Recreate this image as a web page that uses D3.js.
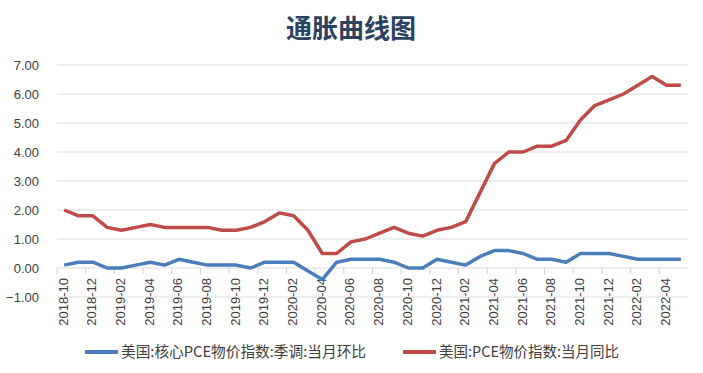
<!DOCTYPE html>
<html>
<head>
<meta charset="utf-8">
<script src="https://cdn.jsdelivr.net/npm/d3@7"></script>
<style>
  body { margin: 0; background: #fff; }
  text { font-family: "Liberation Sans", "Noto Sans CJK SC", sans-serif; }
</style>
</head>
<body>
<script>
// 月份
var months = [];
for (var y = 2018, m = 10; y * 12 + m <= 2022 * 12 + 5; m++) {
    if (m > 12) { m = 1; y++; }
    months.push(y + "-" + (m < 10 ? "0" + m : m));
}
// 美国:核心PCE物价指数:季调:当月环比
var core_mom = [0.1,0.2,0.2,0.0,0.0,0.1,0.2,0.1,0.3,0.2,0.1,0.1,0.1,0.0,0.2,0.2,0.2,-0.1,-0.4,0.2,
    0.3,0.3,0.3,0.2,0.0,0.0,0.3,0.2,0.1,0.4,0.6,0.6,0.5,0.3,0.3,0.2,0.5,0.5,0.5,0.4,0.3,0.3,0.3,0.3];
// 美国:PCE物价指数:当月同比
var pce_yoy = [2.0,1.8,1.8,1.4,1.3,1.4,1.5,1.4,1.4,1.4,1.4,1.3,1.3,1.4,1.6,1.9,1.8,1.3,0.5,0.5,
    0.9,1.0,1.2,1.4,1.2,1.1,1.3,1.4,1.6,2.6,3.6,4.0,4.0,4.2,4.2,4.4,5.1,5.6,5.8,6.0,6.3,6.6,6.3,6.3];
var yTicks = [-1,0,1,2,3,4,5,6,7];
var seriesNames = ["美国:核心PCE物价指数:季调:当月环比", "美国:PCE物价指数:当月同比"];
var colors = ["#4a7ebb", "#be4b48"];

const W = 703, H = 373;
const svg = d3.select("body").append("svg").attr("width", W).attr("height", H);

// 标题
svg.append("text").attr("x", 351).attr("y", 38).attr("text-anchor", "middle")
    .style("font-family", "'Noto Sans CJK SC'").style("font-size", "26px").style("font-weight", "bold")
    .style("fill", "#2b4260").text("通胀曲线图");

const xScale = d3.scaleBand().domain(months).range([57, 688]);
const yScale = d3.scaleLinear().domain([-1, 7]).range([297, 65]);

// 网格线
svg.append("g").selectAll("line").data(yTicks).enter().append("line")
    .attr("x1", 57).attr("x2", 688)
    .attr("y1", d => yScale(d)).attr("y2", d => yScale(d))
    .style("stroke", "#dcdcdc").style("stroke-width", 1);

// y轴
const yAxis = d3.axisLeft(yScale).tickValues(yTicks).tickFormat(d3.format(".2f")).tickSize(0).tickPadding(0);
const gy = svg.append("g").attr("transform", "translate(39,0)").call(yAxis);
gy.select(".domain").remove();
gy.selectAll("text").style("font-size", "13px").style("fill", "#404040");

// x轴刻度 (在0线)
const tickMonths = months.filter((d, i) => i % 2 == 0);
svg.append("g").selectAll("line").data(tickMonths).enter().append("line")
    .attr("x1", d => xScale(d)).attr("x2", d => xScale(d))
    .attr("y1", yScale(0)).attr("y2", yScale(0) + 6)
    .style("stroke", "#d0d0d0");

// x轴标签
const labelMonths = months.filter((d, i) => i % 2 == 0);
svg.append("g").selectAll("text").data(labelMonths).enter().append("text")
    .attr("transform", d => "translate(" + (xScale(d) + xScale.bandwidth() / 2 + 3.5) + "," + (yScale(0) + 10) + ") rotate(-90)")
    .attr("text-anchor", "end")
    .style("font-size", "13px").style("fill", "#404040")
    .text(d => d);

// 折线
const line = d3.line().x((d, i) => xScale(months[i]) + xScale.bandwidth() / 2).y(d => yScale(d));
[core_mom, pce_yoy].forEach(function (s, k) {
    svg.append("path").datum(s).attr("d", line)
        .style("fill", "none").style("stroke", colors[k]).style("stroke-width", 3.5)
        .style("stroke-linejoin", "round");
});

// 图例
const legX = [85, 403], legW = [245, 180];
seriesNames.forEach(function (name, k) {
    svg.append("line").attr("x1", legX[k]).attr("x2", legX[k] + 33).attr("y1", 352).attr("y2", 352)
        .style("stroke", colors[k]).style("stroke-width", 4);
    svg.append("text").attr("x", legX[k] + 36).attr("y", 357)
        .attr("textLength", legW[k]).attr("lengthAdjust", "spacingAndGlyphs")
        .style("font-family", "'Noto Sans CJK SC'").style("font-size", "15px").style("fill", "#404040")
        .text(name);
});
</script>
</body>
</html>
